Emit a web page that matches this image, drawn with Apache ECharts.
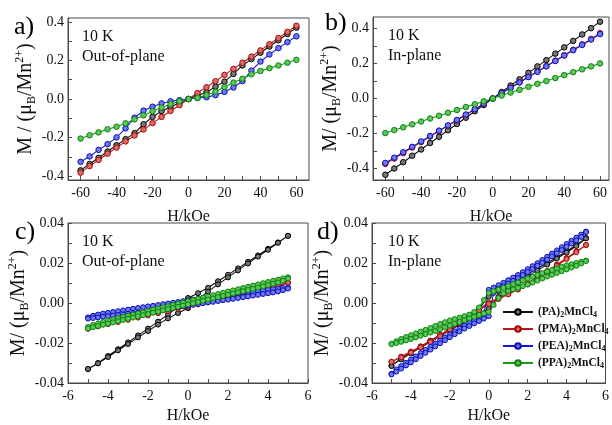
<!DOCTYPE html>
<html><head><meta charset="utf-8">
<script src="https://cdn.jsdelivr.net/npm/echarts@6/dist/echarts.min.js"></script>
<style>html,body{margin:0;padding:0;background:#fff}#c{width:612px;height:425px}</style>
</head><body><div id="c"></div>
<script>
// ---------- data ----------
const H_ab = [-60,-55,-50,-45,-40,-35,-30,-25,-20,-15,-10,-5,0,5,10,15,20,25,30,35,40,45,50,55,60];
const a_PA  = [-0.370,-0.337,-0.305,-0.272,-0.240,-0.208,-0.177,-0.131,-0.093,-0.063,-0.041,-0.020,0,0.018,0.035,0.064,0.090,0.130,0.174,0.207,0.240,0.272,0.305,0.337,0.370];
const a_PMA = [-0.382,-0.348,-0.316,-0.284,-0.252,-0.220,-0.189,-0.158,-0.125,-0.093,-0.062,-0.032,0,0.031,0.061,0.092,0.125,0.156,0.188,0.220,0.252,0.284,0.316,0.348,0.380];
const a_PEA = [-0.326,-0.298,-0.264,-0.234,-0.199,-0.152,-0.097,-0.060,-0.040,-0.023,-0.012,-0.006,0,0.005,0.009,0.020,0.037,0.060,0.093,0.147,0.194,0.231,0.264,0.295,0.325];
const a_PPA = [-0.205,-0.188,-0.173,-0.157,-0.144,-0.126,-0.106,-0.085,-0.063,-0.044,-0.027,-0.012,0,0.007,0.020,0.038,0.062,0.085,0.105,0.128,0.145,0.160,0.174,0.188,0.203];

const b_PA  = [-0.437,-0.401,-0.365,-0.328,-0.292,-0.255,-0.219,-0.182,-0.146,-0.110,-0.073,-0.037,0,0.037,0.074,0.110,0.147,0.184,0.220,0.257,0.293,0.330,0.367,0.403,0.440];
const b_PMA = [-0.375,-0.344,-0.313,-0.281,-0.250,-0.218,-0.187,-0.156,-0.125,-0.094,-0.062,-0.031,0,0.031,0.062,0.093,0.124,0.155,0.186,0.217,0.248,0.279,0.310,0.341,0.374];
const b_PEA = [-0.369,-0.339,-0.308,-0.277,-0.246,-0.215,-0.184,-0.154,-0.123,-0.092,-0.061,-0.030,0,0.031,0.061,0.092,0.123,0.153,0.184,0.215,0.246,0.277,0.307,0.338,0.369];
const b_PPA = [-0.198,-0.181,-0.165,-0.148,-0.132,-0.115,-0.099,-0.082,-0.066,-0.049,-0.033,-0.016,0,0.017,0.034,0.050,0.067,0.084,0.100,0.117,0.134,0.151,0.167,0.184,0.201];

const H_desc_coarse = [5,4.5,4,3.5,3,2.5,2,1.5,1,0.5,0,-0.5,-1,-1.5,-2,-2.5,-3,-3.5,-4,-4.5,-5];
const H_asc_coarse  = [-5,-4.5,-4,-3.5,-3,-2.5,-2,-1.5,-1,-0.5,0,0.5,1,1.5,2,2.5,3,3.5,4,4.5,5];
const H_desc_fine = [5,4.75,4.5,4.25,4,3.75,3.5,3.25,3,2.75,2.5,2.25,2,1.75,1.5,1.25,1,0.75,0.5,0.25,0,-0.25,-0.5,-0.75,-1,-1.25,-1.5,-1.75,-2,-2.25,-2.5,-2.75,-3,-3.25,-3.5,-3.75,-4,-4.25,-4.5,-4.75,-5];
const H_asc_fine  = [-5,-4.75,-4.5,-4.25,-4,-3.75,-3.5,-3.25,-3,-2.75,-2.5,-2.25,-2,-1.75,-1.5,-1.25,-1,-0.75,-0.5,-0.25,0,0.25,0.5,0.75,1,1.25,1.5,1.75,2,2.25,2.5,2.75,3,3.25,3.5,3.75,4,4.25,4.5,4.75,5];

const c_PA_desc  = [0.0336,0.0303,0.0271,0.0238,0.0206,0.0173,0.0141,0.0109,0.0076,0.0049,0.0025,-0.0019,-0.0058,-0.0093,-0.0128,-0.0162,-0.0197,-0.0231,-0.0265,-0.0300,-0.0330];
const c_PA_asc   = [-0.0330,-0.0302,-0.0270,-0.0237,-0.0205,-0.0172,-0.0140,-0.0108,-0.0077,-0.0050,-0.0026,0.0018,0.0057,0.0093,0.0128,0.0163,0.0198,0.0232,0.0266,0.0301,0.0336];
const c_PMA_desc = [0.0102,0.0090,0.0079,0.0068,0.0057,0.0046,0.0035,0.0024,0.0013,0.0002,-0.0008,-0.0019,-0.0030,-0.0041,-0.0052,-0.0064,-0.0075,-0.0086,-0.0098,-0.0110,-0.0127];
const c_PMA_asc  = [-0.0129,-0.0117,-0.0106,-0.0095,-0.0084,-0.0073,-0.0062,-0.0051,-0.0040,-0.0029,-0.0018,-0.0007,0.0004,0.0015,0.0026,0.0037,0.0048,0.0059,0.0071,0.0083,0.0100];
const c_PEA_desc = [0.0078,0.0075,0.0072,0.0069,0.0066,0.0063,0.0060,0.0057,0.0054,0.0051,0.0048,0.0045,0.0042,0.0039,0.0036,0.0032,0.0029,0.0025,0.0021,0.0017,0.0013,0.0009,0.0005,0.0001,-0.0003,-0.0006,-0.0010,-0.0014,-0.0017,-0.0021,-0.0025,-0.0029,-0.0033,-0.0037,-0.0041,-0.0045,-0.0049,-0.0053,-0.0058,-0.0064,-0.0072];
const c_PEA_asc  = [-0.0078,-0.0075,-0.0072,-0.0069,-0.0066,-0.0063,-0.0060,-0.0057,-0.0054,-0.0051,-0.0048,-0.0045,-0.0042,-0.0039,-0.0036,-0.0032,-0.0029,-0.0025,-0.0021,-0.0017,-0.0013,-0.0009,-0.0005,-0.0001,0.0003,0.0006,0.0010,0.0014,0.0017,0.0021,0.0025,0.0029,0.0033,0.0037,0.0041,0.0045,0.0049,0.0053,0.0058,0.0064,0.0072];
const c_PPA_desc = [0.0129,0.0123,0.0117,0.0111,0.0105,0.0099,0.0093,0.0087,0.0081,0.0075,0.0069,0.0063,0.0057,0.0051,0.0045,0.0039,0.0033,0.0027,0.0021,0.0015,0.0009,0.0002,-0.0004,-0.0010,-0.0016,-0.0022,-0.0028,-0.0034,-0.0040,-0.0046,-0.0052,-0.0058,-0.0064,-0.0070,-0.0076,-0.0082,-0.0088,-0.0095,-0.0102,-0.0110,-0.0120];
const c_PPA_asc  = [-0.0127,-0.0121,-0.0115,-0.0109,-0.0103,-0.0097,-0.0091,-0.0085,-0.0079,-0.0073,-0.0067,-0.0061,-0.0055,-0.0049,-0.0043,-0.0037,-0.0031,-0.0025,-0.0019,-0.0013,-0.0007,-0.0001,0.0005,0.0011,0.0017,0.0023,0.0029,0.0035,0.0041,0.0047,0.0053,0.0059,0.0065,0.0071,0.0077,0.0083,0.0089,0.0096,0.0103,0.0111,0.0122];

const d_PA_desc  = [0.0325,0.0290,0.0259,0.0229,0.0200,0.0172,0.0143,0.0115,0.0088,0.0060,0.0032,-0.0028,-0.0065,-0.0098,-0.0130,-0.0160,-0.0188,-0.0217,-0.0246,-0.0277,-0.0313];
const d_PA_asc   = [-0.0315,-0.0282,-0.0252,-0.0223,-0.0194,-0.0166,-0.0137,-0.0109,-0.0082,-0.0055,-0.0028,0.0030,0.0067,0.0100,0.0133,0.0163,0.0192,0.0222,0.0252,0.0285,0.0323];
const d_PMA_desc = [0.0290,0.0258,0.0225,0.0192,0.0160,0.0128,0.0098,0.0072,0.0048,0.0025,0.0003,-0.0030,-0.0062,-0.0095,-0.0128,-0.0160,-0.0190,-0.0218,-0.0243,-0.0268,-0.0294];
const d_PMA_asc  = [-0.0294,-0.0272,-0.0248,-0.0222,-0.0195,-0.0166,-0.0134,-0.0101,-0.0068,-0.0036,-0.0005,0.0020,0.0043,0.0067,0.0093,0.0122,0.0153,0.0186,0.0220,0.0254,0.0290];
const d_PEA_desc = [0.0357,0.0342,0.0327,0.0311,0.0295,0.0279,0.0263,0.0247,0.0231,0.0215,0.0199,0.0184,0.0169,0.0154,0.0140,0.0127,0.0114,0.0101,0.0089,0.0077,0.0066,-0.0052,-0.0072,-0.0086,-0.0099,-0.0113,-0.0127,-0.0142,-0.0157,-0.0172,-0.0188,-0.0203,-0.0219,-0.0235,-0.0251,-0.0267,-0.0283,-0.0299,-0.0315,-0.0332,-0.0354];
const d_PEA_asc  = [-0.0357,-0.0343,-0.0328,-0.0312,-0.0297,-0.0281,-0.0265,-0.0249,-0.0233,-0.0217,-0.0201,-0.0186,-0.0171,-0.0156,-0.0142,-0.0128,-0.0115,-0.0102,-0.0090,-0.0078,-0.0066,0.0050,0.0070,0.0084,0.0097,0.0111,0.0125,0.0140,0.0155,0.0170,0.0186,0.0201,0.0217,0.0233,0.0249,0.0265,0.0281,0.0297,0.0313,0.0330,0.0355];
const d_PPA_desc = [0.0212,0.0206,0.0200,0.0194,0.0188,0.0181,0.0173,0.0165,0.0157,0.0149,0.0140,0.0131,0.0122,0.0113,0.0103,0.0094,0.0085,0.0076,0.0067,0.0059,0.0050,0.0015,-0.0022,-0.0045,-0.0058,-0.0066,-0.0073,-0.0080,-0.0087,-0.0096,-0.0105,-0.0115,-0.0125,-0.0134,-0.0143,-0.0152,-0.0161,-0.0170,-0.0180,-0.0191,-0.0204];
const d_PPA_asc  = [-0.0206,-0.0200,-0.0194,-0.0187,-0.0180,-0.0172,-0.0164,-0.0156,-0.0148,-0.0140,-0.0131,-0.0122,-0.0113,-0.0104,-0.0095,-0.0086,-0.0077,-0.0069,-0.0060,-0.0052,-0.0044,-0.0010,0.0025,0.0048,0.0060,0.0068,0.0076,0.0084,0.0093,0.0102,0.0112,0.0122,0.0132,0.0141,0.0150,0.0159,0.0168,0.0177,0.0186,0.0197,0.0210];

// tick labels
const xTicks_ab = [-60,-40,-20,0,20,40,60];
const xMinor_ab = [-50,-30,-10,10,30,50];
const yTicks_ab = [-0.4,-0.2,0,0.2,0.4];
const yMinor_ab = [-0.3,-0.1,0.1,0.3];
const xTicks_cd = [-6,-4,-2,0,2,4,6];
const xMinor_cd = [-5,-3,-1,1,3,5];
const yTicks_cd = [-0.04,-0.02,0,0.02,0.04];
const yMinor_cd = [-0.03,-0.01,0.01,0.03];

const names = ['PA','PMA','PEA','PPA'];
const panelTags = ['a)','b)','c)','d)'];
const tempText = '10 K';
const orientText = ['Out-of-plane','In-plane','Out-of-plane','In-plane'];
const xName = 'H/kOe';

// ---------- styling ----------
const FONT = '"Liberation Serif","Times New Roman",serif';
const AX = '#4a4a4a';
const COL = {
  PA:  {line:'#111111', fill:'#777777', edge:'#000000'},
  PMA: {line:'#c01818', fill:'#e06a64', edge:'#a00a0a'},
  PEA: {line:'#1818d0', fill:'#6a7af2', edge:'#0c0cb0'},
  PPA: {line:'#169a16', fill:'#5cc85c', edge:'#0a820a'}
};
const grids = [
  {left:68, top:18, width:241, height:162, xr:[-67,67], yr:[-0.42,0.42], xt:xTicks_ab, xm:xMinor_ab, yt:yTicks_ab, ym:yMinor_ab, yd:1, nameGap:29, yGap:26, yLbl:'M / ('},
  {left:373, top:17, width:236, height:163, xr:[-66.9,65], yr:[-0.467,0.467], xt:xTicks_ab, xm:xMinor_ab, yt:yTicks_ab, ym:yMinor_ab, yd:1, nameGap:29, yGap:26, yLbl:'M/ ('},
  {left:68, top:223, width:240, height:164, xr:[-6,6], yr:[-0.04,0.04], xt:xTicks_cd, xm:xMinor_cd, yt:yTicks_cd, ym:yMinor_cd, yd:2, nameGap:25, yGap:30, yLbl:'M/ ('},
  {left:372, top:223, width:237, height:164, xr:[-6,6], yr:[-0.04,0.04], xt:xTicks_cd, xm:xMinor_cd, yt:yTicks_cd, ym:yMinor_cd, yd:2, nameGap:25, yGap:30, yLbl:'M/ ('}
];

const xAxis = [], yAxis = [], gridOpt = [];
grids.forEach((g, i) => {
  gridOpt.push({left:g.left, top:g.top, width:g.width, height:g.height, show:true, borderColor:AX, borderWidth:1, backgroundColor:'transparent'});
  xAxis.push({
    type:'value', gridIndex:i, min:g.xr[0], max:g.xr[1], position:'bottom',
    axisLine:{show:true, onZero:false, lineStyle:{color:AX, width:1}},
    axisTick:{show:true, inside:true, length:4, customValues:g.xt.concat(g.xm), lineStyle:{color:AX}},
    axisLabel:{customValues:g.xt, formatter:v => String(Math.round(v)), fontFamily:FONT, fontSize:14, color:'#111', margin:6, showMinLabel:true, showMaxLabel:true},
    splitLine:{show:false},
    name:xName, nameLocation:'middle', nameGap:g.nameGap,
    nameTextStyle:{fontFamily:FONT, fontSize:16, color:'#111'}
  });
  yAxis.push({
    type:'value', gridIndex:i, min:g.yr[0], max:g.yr[1], position:'left',
    axisLine:{show:true, onZero:false, lineStyle:{color:AX, width:1}},
    axisTick:{show:true, inside:true, length:4, customValues:g.yt.concat(g.ym), lineStyle:{color:AX}},
    axisLabel:{customValues:g.yt, formatter:v => v.toFixed(g.yd), fontFamily:FONT, fontSize:14, color:'#111', margin:4, showMinLabel:true, showMaxLabel:true},
    splitLine:{show:false},
    name:'{t|' + g.yLbl + 'μ}{s|B}{t|/Mn}{p|2+}{t|)}', nameLocation:'middle', nameRotate:90, nameGap:g.yGap,
    nameTextStyle:{fontFamily:FONT, color:'#111',
      rich:{
        t:{fontFamily:FONT, fontSize:20, color:'#111', lineHeight:24},
        s:{fontFamily:FONT, fontSize:12, color:'#111', verticalAlign:'bottom', lineHeight:12},
        p:{fontFamily:FONT, fontSize:12, color:'#111', verticalAlign:'top', lineHeight:12}
      }}
  });
});

function pairs(h, m) { return h.map((x, i) => [x, m[i]]); }
function mk(name, gi, data, size) {
  const c = COL[name];
  return {
    type:'line', name:name, xAxisIndex:gi, yAxisIndex:gi, data:data,
    symbol:'circle', symbolSize:size, showSymbol:true,
    lineStyle:{color:c.line, width:1.1},
    itemStyle:{color:c.fill, borderColor:c.edge, borderWidth:1},
    emphasis:{disabled:true}, animation:false, z:2
  };
}
const series = [
  mk('PA', 0, pairs(H_ab, a_PA), 5.5),
  mk('PMA',0, pairs(H_ab, a_PMA), 5.5),
  mk('PEA',0, pairs(H_ab, a_PEA), 5.5),
  mk('PPA',0, pairs(H_ab, a_PPA), 5.5),
  mk('PA', 1, pairs(H_ab, b_PA), 5.5),
  mk('PMA',1, pairs(H_ab, b_PMA), 5.5),
  mk('PEA',1, pairs(H_ab, b_PEA), 5.5),
  mk('PPA',1, pairs(H_ab, b_PPA), 5.5),
  mk('PA', 2, pairs(H_desc_coarse, c_PA_desc).concat(pairs(H_asc_coarse, c_PA_asc)), 5),
  mk('PMA',2, pairs(H_desc_coarse, c_PMA_desc).concat(pairs(H_asc_coarse, c_PMA_asc)), 5),
  mk('PEA',2, pairs(H_desc_fine, c_PEA_desc).concat(pairs(H_asc_fine, c_PEA_asc)), 5),
  mk('PPA',2, pairs(H_desc_fine, c_PPA_desc).concat(pairs(H_asc_fine, c_PPA_asc)), 5),
  mk('PA', 3, pairs(H_desc_coarse, d_PA_desc).concat(pairs(H_asc_coarse, d_PA_asc)), 5),
  mk('PMA',3, pairs(H_desc_coarse, d_PMA_desc).concat(pairs(H_asc_coarse, d_PMA_asc)), 5),
  mk('PEA',3, pairs(H_desc_fine, d_PEA_desc).concat(pairs(H_asc_fine, d_PEA_asc)), 5),
  mk('PPA',3, pairs(H_desc_fine, d_PPA_desc).concat(pairs(H_asc_fine, d_PPA_asc)), 5)
];

const graphic = [];
const tagPos = [[14,27],[325,23],[15,232],[317,232]];
const txtPos = [[82,37],[388,36],[82,242],[388,242]];
panelTags.forEach((t, i) => {
  graphic.push({type:'text', x:tagPos[i][0], y:tagPos[i][1], style:{text:t, font:'26px ' + FONT, fill:'#000', textAlign:'left', textVerticalAlign:'middle'}});
  graphic.push({type:'text', x:txtPos[i][0], y:txtPos[i][1], style:{text:tempText, font:'16px ' + FONT, fill:'#111', textAlign:'left', textVerticalAlign:'middle'}});
  graphic.push({type:'text', x:txtPos[i][0], y:txtPos[i][1] + 20, style:{text:orientText[i], font:'16px ' + FONT, fill:'#111', textAlign:'left', textVerticalAlign:'middle'}});
});

const chart = echarts.init(document.getElementById('c'), null, {renderer:'canvas'});
chart.setOption({
  animation:false,
  backgroundColor:'#fff',
  grid:gridOpt, xAxis:xAxis, yAxis:yAxis, series:series, graphic:graphic,
  legend:{
    data:names, orient:'vertical', left:502, top:306, itemWidth:30, itemHeight:7, itemGap:4, padding:0,
    selectedMode:false,
    formatter:n => '{n|(' + n + ')}{s|2}{n|MnCl}{s|4}',
    textStyle:{fontFamily:FONT, color:'#111',
      rich:{
        n:{fontFamily:FONT, fontSize:11.5, fontWeight:'bold', color:'#111', lineHeight:14},
        s:{fontFamily:FONT, fontSize:8, fontWeight:'bold', color:'#111', verticalAlign:'bottom', lineHeight:8}
      }}
  }
});
</script></body></html>
